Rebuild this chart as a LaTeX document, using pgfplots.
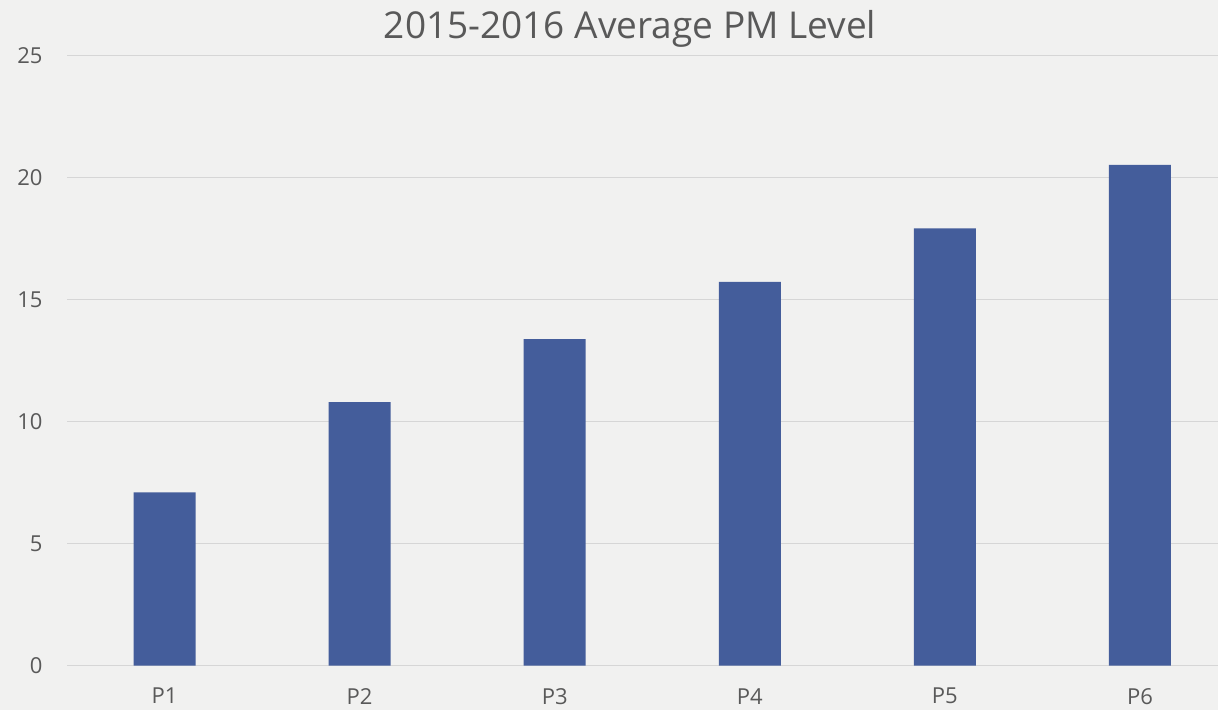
\documentclass[border=0pt]{standalone}
\usepackage{fontspec}
\setmainfont{Open Sans}
\usepackage{pgfplots}
\pgfplotsset{compat=1.18}
\definecolor{bg}{HTML}{F1F1F0}
\definecolor{barc}{HTML}{445D9B}
\definecolor{gridc}{HTML}{D6D6D6}
\definecolor{txt}{HTML}{595959}
\begin{document}
\begin{tikzpicture}[x=1pt,y=1pt]
\fill[bg] (0,0) rectangle (1218,710);
\useasboundingbox (0,0) rectangle (1218,710);
\node[txt,font=\fontsize{37}{37}\selectfont] at (630,681) {2015-2016 Average PM Level};
\begin{axis}[
  at={(67pt,44.3pt)}, anchor=south west,
  scale only axis, width=1151pt, height=610.4pt,
  ymin=0, ymax=25, ytick={0,5,...,25},
  xmin=-0.5, xmax=5.4,
  xtick={0,1,2,3,4,5}, xticklabels={P1,P2,P3,P4,P5,P6},
  axis line style={draw=none},
  ymajorgrids, grid style={gridc, line width=1.3pt},
  major tick length=0pt,
  tick label style={txt, font=\fontsize{22}{22}\selectfont},
  /pgf/number format/assume math mode=true,
  yticklabel style={xshift=-21pt},
  xticklabel style={yshift=-19pt},
  clip=false,
]
\addplot[ybar, bar width=62pt, fill=barc, draw=none] coordinates {
(0,7.10) (1,10.80) (2,13.38) (3,15.72) (4,17.91) (5,20.51)};
\end{axis}
\end{tikzpicture}
\end{document}
